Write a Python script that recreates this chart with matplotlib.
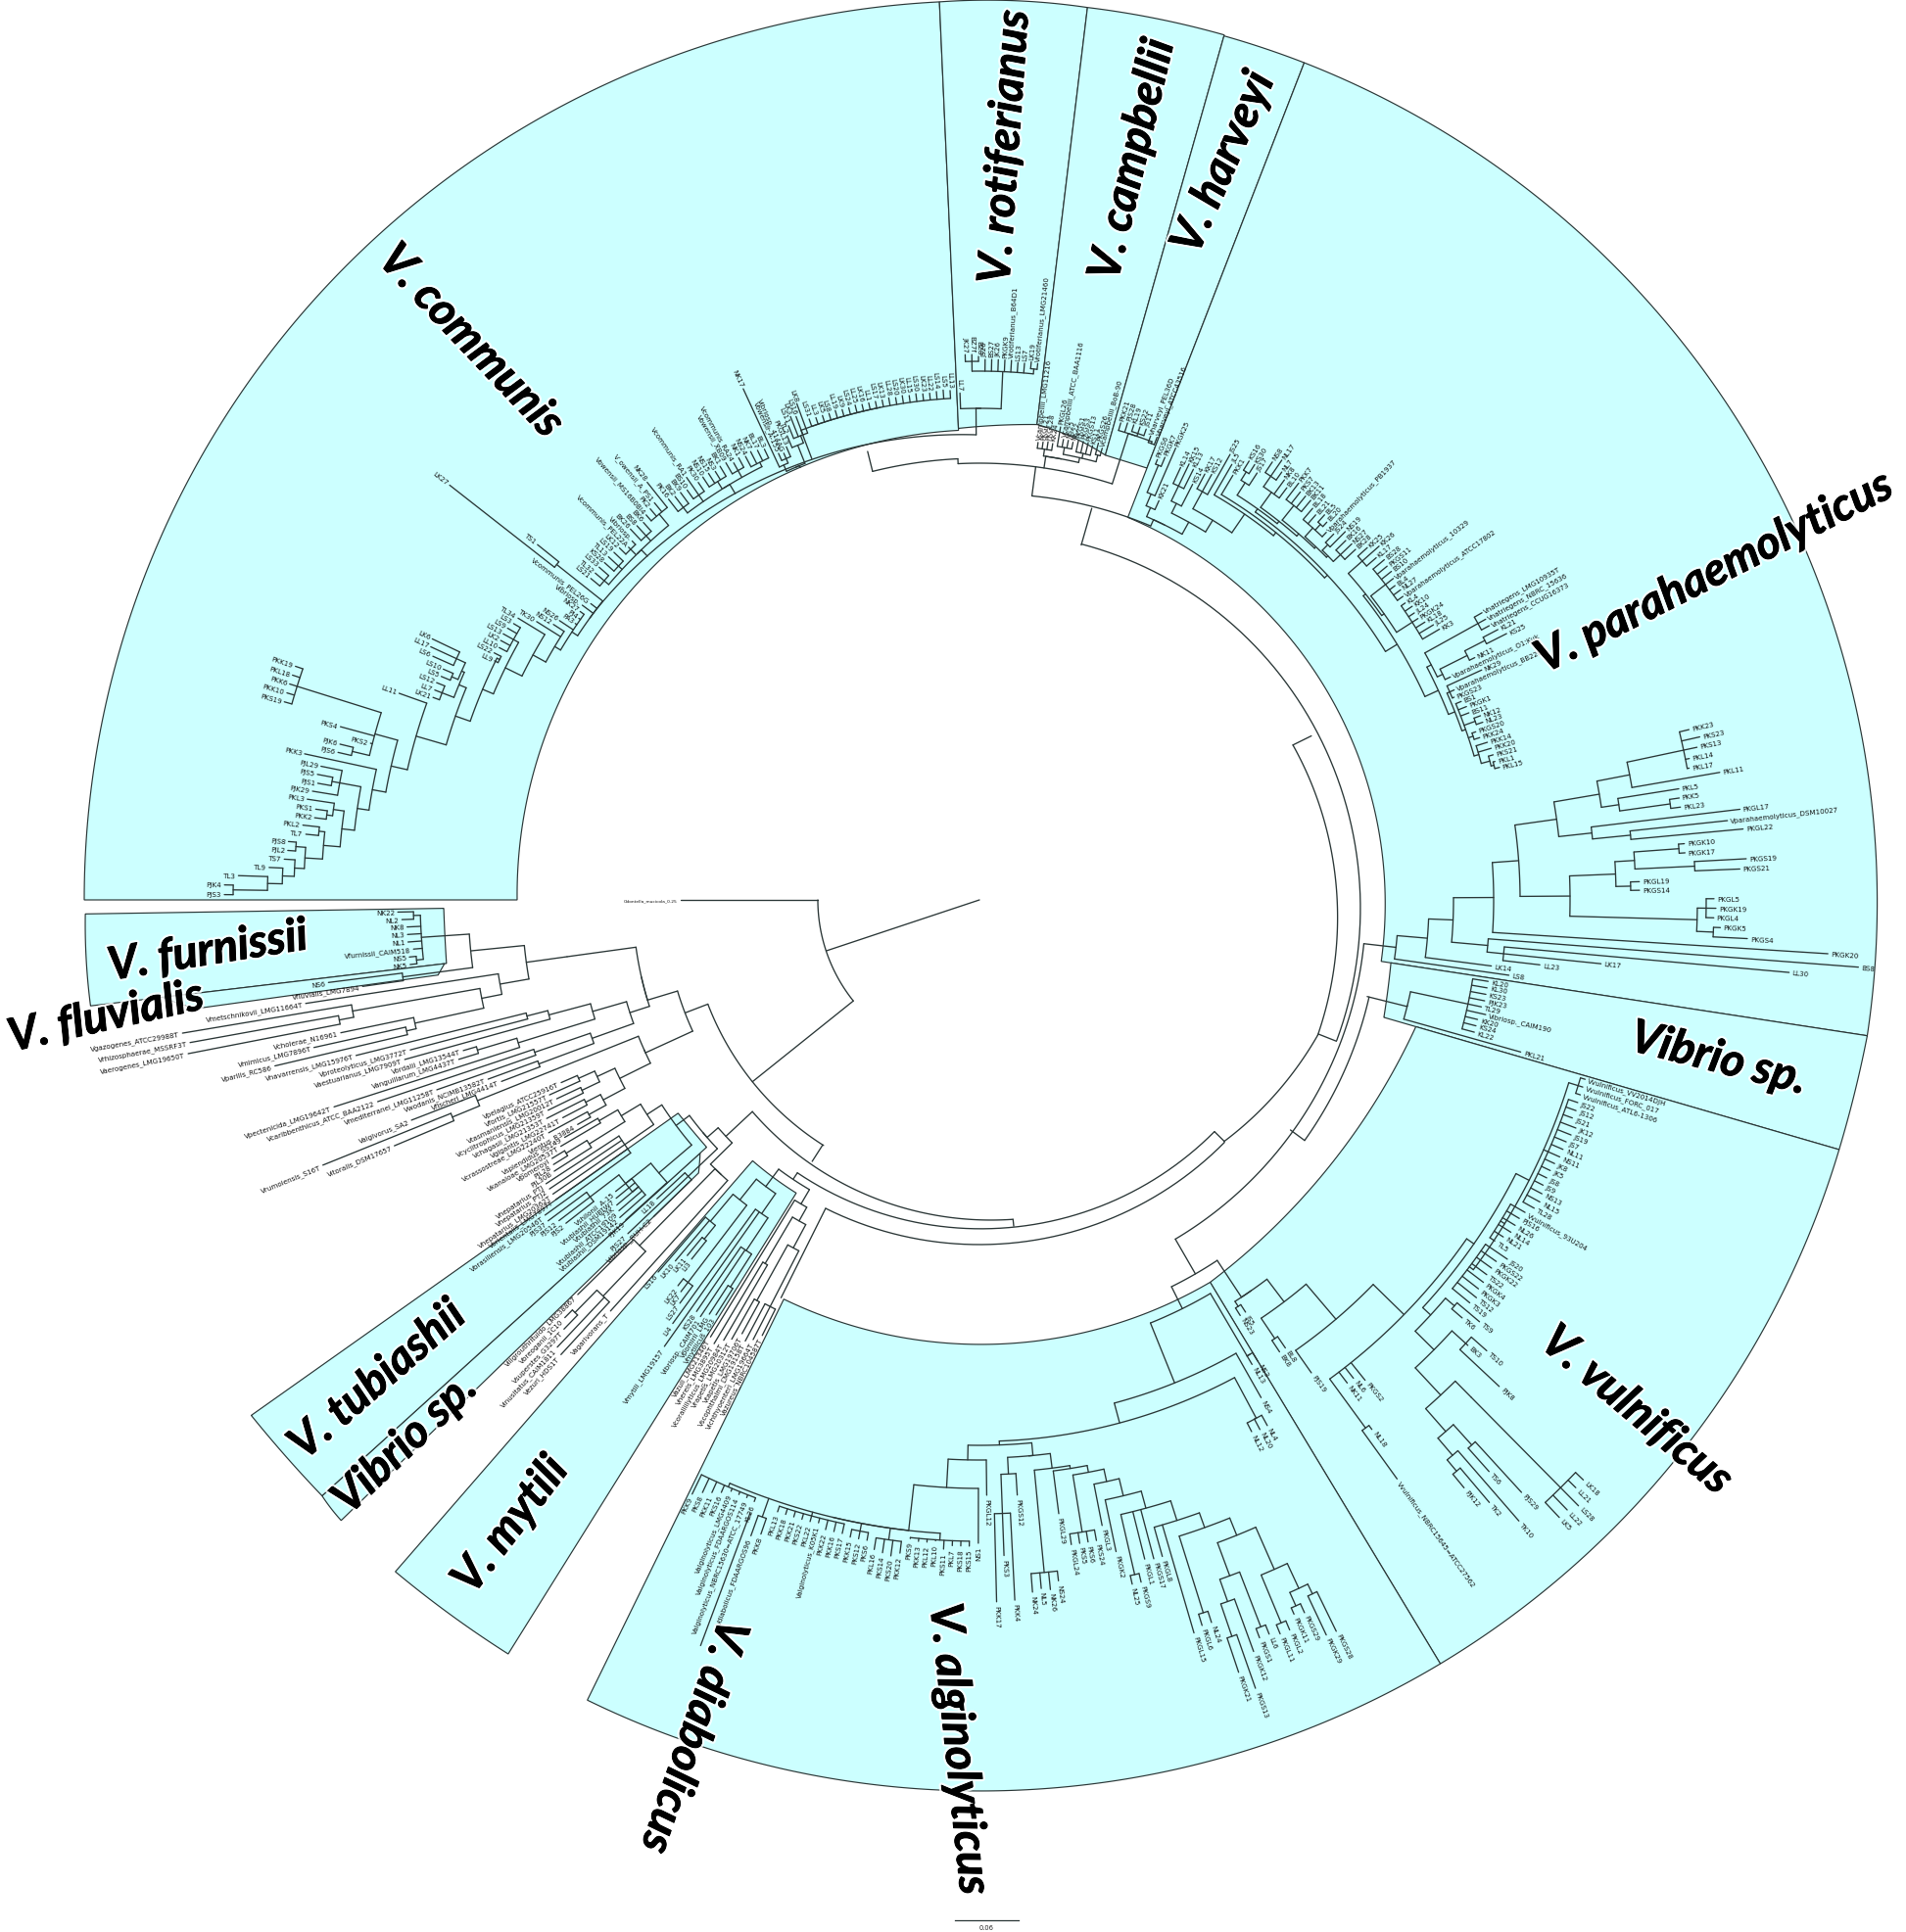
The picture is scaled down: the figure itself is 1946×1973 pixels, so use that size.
import matplotlib
matplotlib.use("Agg")
import matplotlib.pyplot as plt
import matplotlib.patheffects as pe
import numpy as np

# centre of the circular tree, in picture pixels
CX, CY = 1000, 920
LINE = "#2a3636"
SHADE = "#ccffff"

# shaded clades: theta start, theta end, inner radii (start, mid, end), outer radii (start, mid, end)
clade_names = ["communis", "rotiferianus", "campbellii", "harveyi", "parahaemolyticus", "vibrio_r",
               "vulnificus", "alginolyticus", "mytili", "vibrio_l", "tubiashii", "furnissii", "fluvialis"]
clade_theta = [(180, 92.55), (92.55, 83.1), (83.1, 74.2), (74.2, 68.8), (68.8, -8.7), (-8.7, -16.2),
               (-16.2, -58.9), (-58.9, -116.1), (229, 238), (222.2, 224.2), (215.3, 222.2), (180.9, 186.8), (186.8, 187.9)]
clade_inner = [(472, 476, 480), (482, 485, 489), (489, 482, 472), (472, 472, 473), (419, 414, 415), (425, 427, 430),
               (464, 449, 456), (456, 454, 454), (353, 353, 353), (385, 392, 400), (377, 376, 376), (547, 547, 548), (550, 554, 558)]
clade_outer = [(914, 915, 918), (918, 919, 918), (918, 918, 918), (917, 917, 917), (917, 916, 917), (917, 915, 914),
               (914, 912, 911), (911, 910, 910), (909, 908, 908), (906, 908, 909), (911, 908, 906), (913, 914, 914), (840, 825, 808)]

# big labels: text, centre x, centre y, rotation, size
big_text = ["V. communis", "V. rotiferianus", "V. campbellii", "V. harveyi", "V. parahaemolyticus", "Vibrio sp.",
            "V. vulnificus", "V. alginolyticus", "V. diabolicus", "V. mytili", "Vibrio sp.", "V. tubiashii",
            "V. furnissii", "V. fluvialis"]
big_x = [481, 1026, 1156, 1249, 1750, 1755, 1671, 979, 708, 521, 413, 385, 212, 108]
big_y = [349, 151, 164, 167, 585, 1082, 1441, 1787, 1774, 1558, 1475, 1410, 972, 1039]
big_rot = [-46.5, 86, 76.8, 66.4, 27, -14.2, -40, -84, -109, 52.5, 44, 41, 9, 12.6]

# backbone of the tree: r0, r1, theta0, theta1
ring_arcs = [(165, 165, 180, 218.7), (297, 297, 201, 237.6), (322, 322, 196.8, 204.6), (317, 328, 223, 276),
             (335, 337, 236.3, 315.4), (352, 352, 243.5, 315.3), (343, 343, 233.3, 239.6), (372, 351, -21.8, -44.7),
             (357, 372, 26.3, -21.8), (378, 392, 74, -21.5), (395, 400, -6.5, -60), (410, 413, -14, -36.5),
             (441, 441, -63.6, -56.6), (466, 466, -68, -59.6), (532, 532, -75, -60.5), (553, 553, -87.9, -61.9),
             (557, 557, -91.2, -84.5), (572, 572, -89.3, -93.2), (601, 601, -90.1, -96.4), (416, 420, 82.6, 65.4),
             (446, 446, 92.8, 72.3), (451, 451, 104, 92.8), (475, 491, 90.4, 143), (354, 354, 221.1, 224.5)]
# theta, r0, r1
ring_spokes = [(198.4, 0, 165), (218.7, 165, 297), (201, 297, 322), (237.4, 297, 317), (223, 317, 354),
               (276, 328, 335), (315.4, 337, 351), (236.3, 335, 343), (243.5, 352, 454), (26.3, 357, 378),
               (-21.6, 372, 392), (74, 377, 416), (-36.5, 395, 413), (-60, 400, 441), (-63.6, 441, 466),
               (-68, 466, 532), (-75, 532, 553), (82.6, 416, 446), (92.8, 446, 451), (104, 451, 472),
               (-87.9, 553, 557), (-93.2, 572, 601), (249.5, 668, 813), (-91.2, 557, 572)]

outgroup_name = "Odontella_mucicola_0.25"
outgroup_r = 305

# subtrees: a node is [radius, child, child...], a leaf is (name, tip radius)
pk_low = [616,
          [630,
           [642,
            [655,
             [672,
              [690,
               [700, [712, [727, [762, ("PJS3", 771), ("PJK4", 771)], ("TL3", 757)], ("TL9", 726)], ("TS7", 711)],
               [700, ("PJL2", 708), ("PJS8", 708)]],
              [678, ("TL7", 691), ("PKL2", 695)]],
             [666, [672, ("PKK2", 684), ("PKS1", 684)], ("PKL3", 694)]],
            [664, ("PJK29", 690), [672, ("PJS1", 686), ("PJS5", 688)], ("PJL29", 686)]],
           ("PKK3", 705)],
          [640, [658, ("PJS6", 672), ("PJK6", 672)], ("PKS2", 642), ("PKS4", 676),
           [730, ("PKS19", 738), ("PKK10", 738), ("PKK6", 738), ("PKL18", 738), ("PKK19", 738)]]]
comm_low = [491,
            [498,
             [505,
              [520,
               [539,
                [551,
                 [567, [599, pk_low, ("LL11", 629)],
                  [575, [588, ("LK21", 595), ("LL7", 596), ("LS12", 597)],
                   [578, [585, ("LS5", 595), ("LS10", 596)], [588, ("LS6", 611), ("LL17", 617), ("LK6", 619)]]]],
                 [548, ("LL9", 552), ("LS22", 556)]],
                [545, ("LL10", 554), ("LK2", 556), ("LS13", 557), ("LS9", 556), ("LS3", 553)]],
               ("TL34", 552)],
              ("TK30", 534), ("NS12", 518)],
             ("NS26", 515), ("PA3", 500), ("PJ4", 500), ("NK27", 503)],
            ("Vibriosp.", 505), ("Vcommunis_PEL26G", 499), [551, ("LK27", 687), ("TS1", 579)]]
comm_d1 = [497, [503, ("LS21", 515), ("TL32", 515), ("LS33", 516)], [502, ("KS28", 515), ("TL13", 516), ("LS19", 515)],
           [505, ("LK12", 514), ("Vcommunis_PEL22A", 508), ("Vibriosp.", 510)], [504, ("BK26", 520), ("BS8", 518), ("BK6", 516)],
           [512, ("Vowensii_MS16B0BI4", 520), ("PK2", 522), ("V_owensii_A_PS1", 524), ("NK28", 545)]]
comm_d2 = [495, [502, ("PK16", 518), ("BK2", 516), ("BK9", 516)], [503, ("BS10", 514), ("Vcommunis_RA1", 525), ("PK30", 514)],
           [504, ("NS10", 516), ("NS15", 516), ("NS3", 514), ("BK1", 516)], [503, ("Vowensii_XB09", 516), ("Vcommunis_RA24", 512), ("NK1", 514)],
           [500, ("NS24", 512), ("NK7", 514), ("BL17", 512), ("BL3", 510)]]
comm_g3 = [480, [487, ("NK17", 575), [492, ("Vowensii_A-155", 500), ("Vibriosp._414AG", 498), ("PKGL13", 503)]],
           [500, ("TL2", 513), [508, ("LS11", 522), ("LK3", 530), ("LS16", 528), ("LK8", 540)]]]
comm_g4 = [513, ("LS31", 521), ("LL3", 520), ("LK5", 520), ("LS8", 520), ("LL19", 521), ("LK9", 520), ("LS24", 520), ("LL25", 521),
           ("LK16", 520), ("LL1", 520), ("LS17", 520), ("LK13", 520), ("LL28", 521), ("LS20", 520), ("LK30", 521), ("LL15", 520),
           ("LS30", 521), ("LK23", 520), ("LL22", 520), ("LS14", 521), ("LS5", 522), ("LL13", 521)]
rot_tree = [502, ("LL7", 518),
            [540, [550, ("JK27", 557), ("BZ7f", 557), ("BZ8", 555)], ("JS26", 552), ("BS27", 552), ("JK26", 552), ("PKGK9", 552),
             ("Vrotiferianus_B64D1", 552), ("LS13", 550), ("LS7", 550), [545, ("LK19", 552), ("Vrotiferianus_LMG21460", 551)]]]
camp_tree = [458, [465, ("Vcampbellii_LMG11216", 471), ("PKGL21", 472), ("PKGL28", 473), ("KK24", 472)],
             [463, [470, ("PKGL26", 490), ("Vcampbellii_ATCC_BAA1116", 478), ("NS25", 478), ("NK22", 477)],
              [468, ("PKGS1", 480), ("PKGS3", 480), ("PKGS13", 480), ("KS11", 478)],
              [470, ("PKGS26", 482), ("Vcampbellii_BoB-90", 478)]]]
harv_tree = [500, ("PKK21", 508), ("PJS28", 510), [503, ("KL19", 510), ("KS22", 510), ("JS11", 510)],
             [498, ("Vharveyi_PEL36D", 505), ("Vharveyi_ATCC43516", 506)]]
para_a = [437, [450, [480, ("PKGS6", 485), ("PKGK7", 490)], ("PKGK25", 503)], ("KK21", 447)]
para_kl = [452, [469, ("KL14", 487), ("KK15", 494), ("KL13", 491)], ("KS14", 477)]
para_kk = [475, ("KK17", 492), ("KS12", 495), ("JS25", 522)]
grp_a = [505, [515, ("KS16", 526), ("KS30", 526)], ("JS17", 520)]
grp_b = [512, [525, ("NS8", 538), ("NL17", 545), ("NL7", 535)], ("NK8", 530), ("BL10", 525)]
grp_c = [515, ("PKK7", 536), ("PKS7", 530), ("BK13", 530), ("BK11", 530)]
grp_d = [510, ("BL18", 525), ("BL21", 522), [518, ("BL5", 528), ("BL20", 524)], ("Vparahaemolyticus_PB1937", 516)]
grp_e = [508, ("JS24", 520), ("NS19", 530)]
grp_f = [510, ("BK16", 524), ("NS27", 526), ("BK28", 525)]
grp_g = [522, ("KK25", 535), ("KK26", 545), ("KL17", 535)]
grp_h = [525, ("BS28", 540), ("PKGS11", 538), ("BS10", 538), ("Vparahaemolyticus_10329", 535), ("BL4", 532), ("NL27", 534),
         ("Vparahaemolyticus_ATCC17802", 532)]
grp_i = [525, ("KL4", 530), ("KK10", 534), ("JL24", 532), ("PKGK24", 532), ("KL18", 536), ("JL25", 542), ("KK3", 545)]
para_low = [515,
            [520, [582, ("Vnatriegens_LMG10935T", 591), ("Vnatriegens_NBRC_15636", 591), ("Vnatriegens_CCUG16373", 591)],
             [526, [557, [580, ("KL21", 597), ("KS25", 603)], ("NK11", 563)], ("Vparahaemolyticus_O1:Kuk", 532)]],
            [522, [525, ("NK29", 564), ("Vparahaemolyticus_BB22OP", 530), ("PKGS23", 527)],
             [526, ("BS1", 532), ("PKGK1", 535), ("BS11", 535), [538, ("NK12", 545), ("NL23", 545)], [531, ("PKGS20", 535), ("PKK24", 537)],
              [531, ("PKK14", 543), ("PKK20", 545), [540, ("PKS21", 545), [543, ("PKL1", 545), ("PKL15", 548)]]]]]]
ladder1 = [490, grp_a, [493, grp_b, [496, grp_c, [498, grp_d, [500, grp_e, grp_f]]]]]
ladder2 = [503, grp_g, [506, grp_h, grp_i]]
para_up = [427, para_a,
           [441, para_kl,
            [455, para_kk,
             [478, ("JL5", 514), [482, ("PKK1", 505), [486, ladder1, [500, ladder2, para_low]]]]]]]
pl_top = [642,
          [676, [735, ("PKK23", 745), ("PKS23", 754), ("PKS13", 749), ("PKL14", 739), ("PKL17", 737)], ("PKL11", 767)],
          [660, ("PKL5", 723), [712, ("PKK5", 722), ("PKL23", 722)]]]
pl_mid = [629, ("PKGL17", 782), [668, ("Vparahaemolyticus_DSM10027", 768), ("PKGL22", 783)]]
pl_bot = [603,
          [650, [670, [716, ("PKGK10", 722), ("PKGK17", 722)], [731, ("PKGS19", 784), ("PKGS21", 777)]],
           [665, ("PKGL19", 674), ("PKGS14", 674)]],
          [733, [742, ("PKGL5", 750), ("PKGK19", 752), ("PKGL4", 750)], [750, ("PKGK5", 757), ("PKGS4", 785)]]]
para_lower = [428,
              [459,
               [484,
                [525, [552, [595, pl_top, pl_mid], pl_bot], ("PKGK20", 868)],
                [521, ("BS8", 900), [538, ("LL30", 830), ("LK17", 638), ("LL23", 576)]]],
               ("LK14", 527)],
              ("LS8", 546)]
vib_r_tree = [450, [510, ("KL20", 526), ("KL30", 526), ("KS23", 526), ("PJK23", 526), ("TL29", 524), ("Vibriosp._CAIM190", 530),
                    ("KK20", 523), ("KS24", 523), ("KL22", 523)], ("PKL21", 574)]
vu_a = [630,
        [640, ("Vvulnificus_VV2014DJH", 645), ("Vvulnificus_FORC_017", 645), ("Vvulnificus_ATL6-1306", 645)],
        [635, ("JS22", 645), ("JS12", 646), ("JS21", 645), ("JK12", 652), ("JS19", 650), ("JS7", 648), ("NL11", 648), ("NS11", 648),
         ("JK8", 646), ("JK5", 645), ("JS8", 645), ("JS9", 645), ("NS13", 648), ("NL15", 650), ("TL28", 648)],
        [625, ("Vvulnificus_93U204", 642), ("PJS16", 640), ("NL26", 640), ("NL14", 640), ("NL21", 636), ("TL5", 631)],
        [625, ("JS20", 652), ("PKGS22", 644), ("PKGK22", 644), ("TS22", 644), ("PKGK4", 646), ("PKGK3", 646), ("TS12", 650), ("TS19", 648)]]
vu_c = [691, [714, [844, ("LK18", 855), ("LL21", 855), ("LS28", 870), ("LL22", 865), ("LK5", 865)]],
        [722, [750, ("PJS29", 820), ("TS6", 782)], [745, ("TK10", 840), [760, ("TK2", 806), ("PJK12", 778)]]]]
vu_b = [626, [638, ("TS9", 668), ("TK6", 652)], [653, [672, ("TS10", 693), ("BK3", 675), ("PJK8", 727)], vu_c]]
vu_tree = [486,
           [515,
            [562, [606, [615, vu_a, vu_b], ("PKGS2", 629), ("NL6", 620), ("NK11", 620),
                   [668, ("NL18", 673), ("Vvulnificus_NBRC15645=ATCC27562", 729)]],
             ("PJS19", 590)],
            [540, ("BL8", 554), ("BK8", 554)]],
           [492, ("JS5", 501), ("NS23", 501)]]
ns3_tree = [540, ("NS3", 550), ("NL13", 550)]
nl_tree = [600, ("NL4", 612), ("NL20", 612), ("NL12", 610)]
al_pk = [700,
         [747, [775, [786, ("PKGS28", 831), ("PKGK29", 830)], [790, ("PKGS29", 800), ("PKGK11", 797)]], [800, ("PKGL2", 810), ("PKGL11", 810)]],
         [736, [796, ("LL6", 806), ("PKGS1", 806)], [760, ("PKGK12", 817), [795, ("PKGS13", 853), ("PKGK21", 832)]]]]
al_r = [570,
        [585,
         [588,
          [595,
           [608,
            [626,
             [644, [665, [681, al_pk, [763, ("NL24", 775), ("PKGL6", 775)]], ("PKGL15", 780), ("PKGL8", 696)],
              ("PKGS17", 696), ("PKGL1", 694), [707, ("PKGS9", 716), ("NL25", 716)]],
             ("PKGK2", 680)],
            ("PKGL3", 651)],
           [654, ("PKS24", 665), ("PKS6", 665), ("PKS5", 665), ("PKGL24", 665)]],
          ("PKGL29", 632)],
         [690, ("NS24", 700), ("NK26", 708), ("NL5", 706), ("NK24", 709)]],
        [587, ("PKGS12", 609), [627, ("PKK4", 716), ("PKS3", 670), ("PKK17", 717)]]]
al_low = [648,
          [655, ("PKS15", 660), ("PKS18", 660), ("PKL7", 660), ("PKS11", 664), ("PKL10", 656), ("PKL12", 658), ("PKK13", 658), ("PKS9", 656)],
          [660, ("PKK12", 672), ("PKS20", 676), ("PKS14", 674), ("PKL16", 672)],
          [656, ("PKS6", 664), ("PKS12", 664), ("PKK15", 664)],
          [652, ("PKS17", 662), ("PKK16", 662), ("PKK22", 662), ("Valginolyticus_K05K1", 657), ("PKL22", 658), ("PKS22", 658),
           ("PKK21", 658), ("PKK18", 658), ("PKL13", 658)],
          [668, ("PKK8", 685), ("Vdiabolicus_FDAARGOS96", 690)],
          [652, ("KL26", 656), ("Valginolyticus_NBRC15630=ATCC_17749", 655), ("Valginolyticus_FDAARGOS114", 655),
           ("Valginolyticus_LMG4409", 655), ("PKS16", 660), ("PKK11", 664), ("PKS8", 668), ("PKK9", 674)]]
m1_tree = [365,
           [392, [428, ("LS16", 502), ("LK10", 482), [446, ("LK11", 470), ("LI3", 470)]],
            [491, ("LK22", 500), ("LK7", 503), ("LS27", 513)]],
           [390, ("LI4", 534), ("Vmytili_LMG19157", 558), [430, ("KS28", 510), ("Vibriosp._CAIM701", 512),
            [470, ("Vpomirii_LMG", 505), ("Vmytilicus_103", 502)]]]]
m2_tree = [360, ("Vazuli_LMG21346T", 524),
           [376, [431, ("Vnereis_LMG3895T", 528), ("Vcoralliilyticus_LMG20984T", 520)],
            [403, [468, ("Vrapetis_LMG20312T", 515), ("Vtapetis_LMG19706T", 505)],
             [467, ("Vscophthalmi_LMG19158T", 510), ("Vichthyoenteri_LMG19664T", 505), ("Vazureus_NBRC104587T", 497)]]]]
q_tree = [385, [495, ("Viligrouthrituido_LMG38867", 575),
                [558, [590, ("Vbreoganii_1C10", 601), ("Vsuperstes_G3297T", 610)], ("Vinusitatus_CAIM1811", 628), ("Vezuri_HDS1T", 631)]],
          ("Vagarivorans_T", 564)]
w_tree = [369,
          [386,
           [404,
            [427, [449, ("Vsplendidus_SS149", 488), ("Vkanaloae_LMG20537T", 496)],
             [470, [495, ("Vpomeroyi", 510), ("PJL28", 512)], ("PJL30B", 515)]],
            [440, ("Vhepatarius_PTJ", 529), ("Vhepatarius_PTJ2", 529), ("Vhepatarius_LMG20362T", 529), ("Vorientalis_LMG7897T", 530),
             ("Vbrasiliensis_LMG20546T", 548)]],
           [430, [463, [500, ("PJS37", 549), ("PJS12", 540), ("PJS2", 536)],
                  [455, ("Vshilonii_A-15", 476), ("Vtubiashii_HUBLW7", 480), ("Vtubiashii_73K", 484), ("Vtubiashii_ATCC19109", 486),
                   ("Vtubiashii_DSM19142", 490)]], ("PJK19", 487)]],
          [410, ("LL18", 449), ("PJS27", 495), ("Vibriosp._RUH-C2", 464)]]
u_furn = [522,
          [571, [578, ("NK22", 594), ("NL2", 590)], ("NK8", 585), ("NL3", 585), ("NL1", 585), ("Vfurnissii_CAIM518", 580), [578, ("NS5", 585), ("NK5", 585)]],
          [594, ("NS6", 670), ("Vfluvialis_LMG7894", 636)]]
u_meta = [497, ("Vmetschnikovii_LMG11664T", 696),
          [518, [650, ("Vgazogenes_ATCC29988T", 825), [665, ("Vrhizosphaerae_MSSRF3T", 819), ("Vaerogenes_LMG19650T", 823)]],
           [590, ("Vcholerae_N16961", 666), [600, ("Vmimicus_LMG7896T", 696), ("Vparilis_RC586", 739)]]]]
u_vib = [375,
         [411, [455, [477, ("Vnavarrensis_LMG15976T", 656), ("Vproteolyticus_LMG3772T", 601)], ("Vaestuarianus_LMG7909T", 609)],
          [493, [535, ("Vordalii_LMG13544T", 549), ("Vanguillarum_LMG4437T", 556)], ("Vpectenicida_LMG19642T", 692)]],
         [420, [480, ("Vcaribbenthicus_ATCC_BAA2122", 648), ("Vmediterranei_LMG11258T", 587)],
          [480, ("Vwodanis_NCIMB13582T", 534), ("Vfischeri_LMG4414T", 522)]]]
u1_tree = [354, [425, [467, u_furn, u_meta]], u_vib]
u2_tree = [375,
           [552, ("Valgivorus_SA2", 622), [582, ("Vrumoiensis_S16T", 723), ("Vitoralis_DSM17657", 648)]],
           [410, [430, [448, ("Vpelagius_ATCC25916T", 466), ("Vfortis_LMG21557T", 482)], [450, ("Vtasmaniensis_LMG20012T", 477), ("Vcyclitrophicus_LMG21359T", 490)]],
            [435, [452, ("Vchagasii_LMG21353T", 495), ("Vgigantis_LMG22741T", 480)], [455, ("Vcrassostreae_LMG22240T", 500), ("Vlentus_R3884", 470)]]]]

# subtree, theta of first leaf, theta of last leaf, stem theta, stem radius
subtrees = [
    (comm_low, 179.6, 141.2, 143, 491), (comm_d1, 140.4, 128.5, 134, 488), (comm_d2, 127.8, 115.5, 121, 484),
    (comm_g3, 114.8, 110.2, 112.5, 478), (comm_g4, 109.5, 93.3, 110.8, 482),
    (rot_tree, 92.2, 83.8, 90.4, 475), (camp_tree, 82.7, 74.8, 81.5, 446), (harv_tree, 73.5, 69, 72.3, 446),
    (para_up, 68, 14.3, 65.4, 420), (para_lower, 13.5, -8.1, -6.5, 395), (vib_r_tree, -9.1, -15.7, -14, 408),
    (vu_tree, -16.5, -57.9, -56.6, 441), (ns3_tree, -58.9, -59.6, -59.6, 466), (("NS4", 584), -60.5, -60.5, -60.5, 532),
    (nl_tree, -61.3, -62.9, -61.9, 553), (al_r, -64, -88.6, -84.5, 557), (("PKGL12", 608), -89.3, -89.3, -89.3, 572),
    (("NS1", 657), -90.1, -90.1, -90.1, 601), (al_low, -90.9, -115.8, -96.4, 601),
    (m1_tree, 229.2, 237.6, 233.3, 343), (m2_tree, 238.4, 243.5, 239.6, 343), (q_tree, 224.5, 228.1, 224.5, 354),
    (w_tree, 209.8, 224.2, 221.1, 354), (u1_tree, 181.2, 200.8, 196.8, 322), (u2_tree, 201.2, 209.2, 204.6, 322),
]

plt.rcParams["font.family"] = ["DejaVu Sans"]
fig = plt.figure(figsize=(19.46, 19.74), dpi=100)
ax = fig.add_axes([0, 0, 1, 1])
ax.set_xlim(0, 1946)
ax.set_ylim(1974, 0)
ax.axis("off")


def xy(r, t):
    a = np.radians(t)
    return CX + r * np.cos(a), CY - r * np.sin(a)


def arc(r0, r1, t0, t1, z=3):
    n = max(2, int(abs(t1 - t0) * 2) + 2)
    x, y = xy(np.linspace(r0, r1, n), np.linspace(t0, t1, n))
    ax.plot(x, y, color=LINE, lw=0.95, zorder=z, solid_capstyle="round")


def spoke(t, r0, r1):
    x, y = xy(np.array([r0, r1]), t)
    ax.plot(x, y, color=LINE, lw=0.95, zorder=3, solid_capstyle="round")


def leaf_label(name, t, r, size=5.1):
    t2 = (t + 180) % 360 - 180
    x, y = xy(r + 3, t)
    if abs(t2) > 90:
        ax.text(x, y, name, rotation=t2 + 180 if t2 < 0 else t2 - 180, ha="right", va="center",
                rotation_mode="anchor", fontsize=size, color="#111111", zorder=4)
    else:
        ax.text(x, y, name, rotation=t2, ha="left", va="center",
                rotation_mode="anchor", fontsize=size, color="#111111", zorder=4)


def count_leaves(node):
    if isinstance(node, tuple):
        return 1
    return sum(count_leaves(c) for c in node[1:])


def draw_node(node, thetas):
    # returns theta and radius of the node, consumes leaf angles
    if isinstance(node, tuple):
        t = next(thetas)
        leaf_label(node[0], t, node[1])
        return t, node[1]
    r = node[0]
    kids = [draw_node(c, thetas) for c in node[1:]]
    for t, rc in kids:
        spoke(t, r, rc)
    ts = [k[0] for k in kids]
    if len(ts) > 1:
        arc(r, r, min(ts), max(ts))
    return (ts[0] + ts[-1]) / 2, r


# shaded wedges
for name, th, ri, ro in zip(clade_names, clade_theta, clade_inner, clade_outer):
    t = np.linspace(th[0], th[1], 160)
    t3 = [th[0], (th[0] + th[1]) / 2, th[1]]
    r_in = np.polyval(np.polyfit(t3, ri, 2), t)
    r_out = np.polyval(np.polyfit(t3, ro, 2), t)
    xo, yo = xy(r_out, t)
    xi, yi = xy(r_in, t)
    ax.fill(np.r_[xo, xi[::-1]], np.r_[yo, yi[::-1]], facecolor=SHADE, edgecolor=LINE, lw=0.85, zorder=1)

for r0, r1, t0, t1 in ring_arcs:
    arc(r0, r1, t0, t1)
for t, r0, r1 in ring_spokes:
    spoke(t, r0, r1)

spoke(180, 165, outgroup_r)
leaf_label(outgroup_name, 180, outgroup_r, size=3.2)

for tree, t0, t1, stem_t, stem_r in subtrees:
    angles = iter(np.linspace(t0, t1, count_leaves(tree)))
    node_t, node_r = draw_node(tree, angles)
    if not isinstance(tree, tuple):
        # arc of the root node reaches out to where the stem joins
        arc(node_r, node_r, node_t, stem_t)
    spoke(stem_t if not isinstance(tree, tuple) else node_t, stem_r, node_r)

# big species names
halo = [pe.withStroke(linewidth=4, foreground="white", alpha=0.8),
        pe.withStroke(linewidth=0.7, foreground="black")]
for s, x, y, rot in zip(big_text, big_x, big_y, big_rot):
    ax.text(x, y, s, rotation=rot, ha="center", va="center", rotation_mode="anchor", fontsize=33.5,
            family="Lato", style="italic", weight="bold", color="black", zorder=6, path_effects=halo)

# scale bar
ax.plot([975, 1040], [1962, 1962], color=LINE, lw=0.9)
ax.text(1007, 1969, "0.06", ha="center", va="center", fontsize=4.8, color="#222222")

fig.savefig("out.png", dpi=100, facecolor="white")
